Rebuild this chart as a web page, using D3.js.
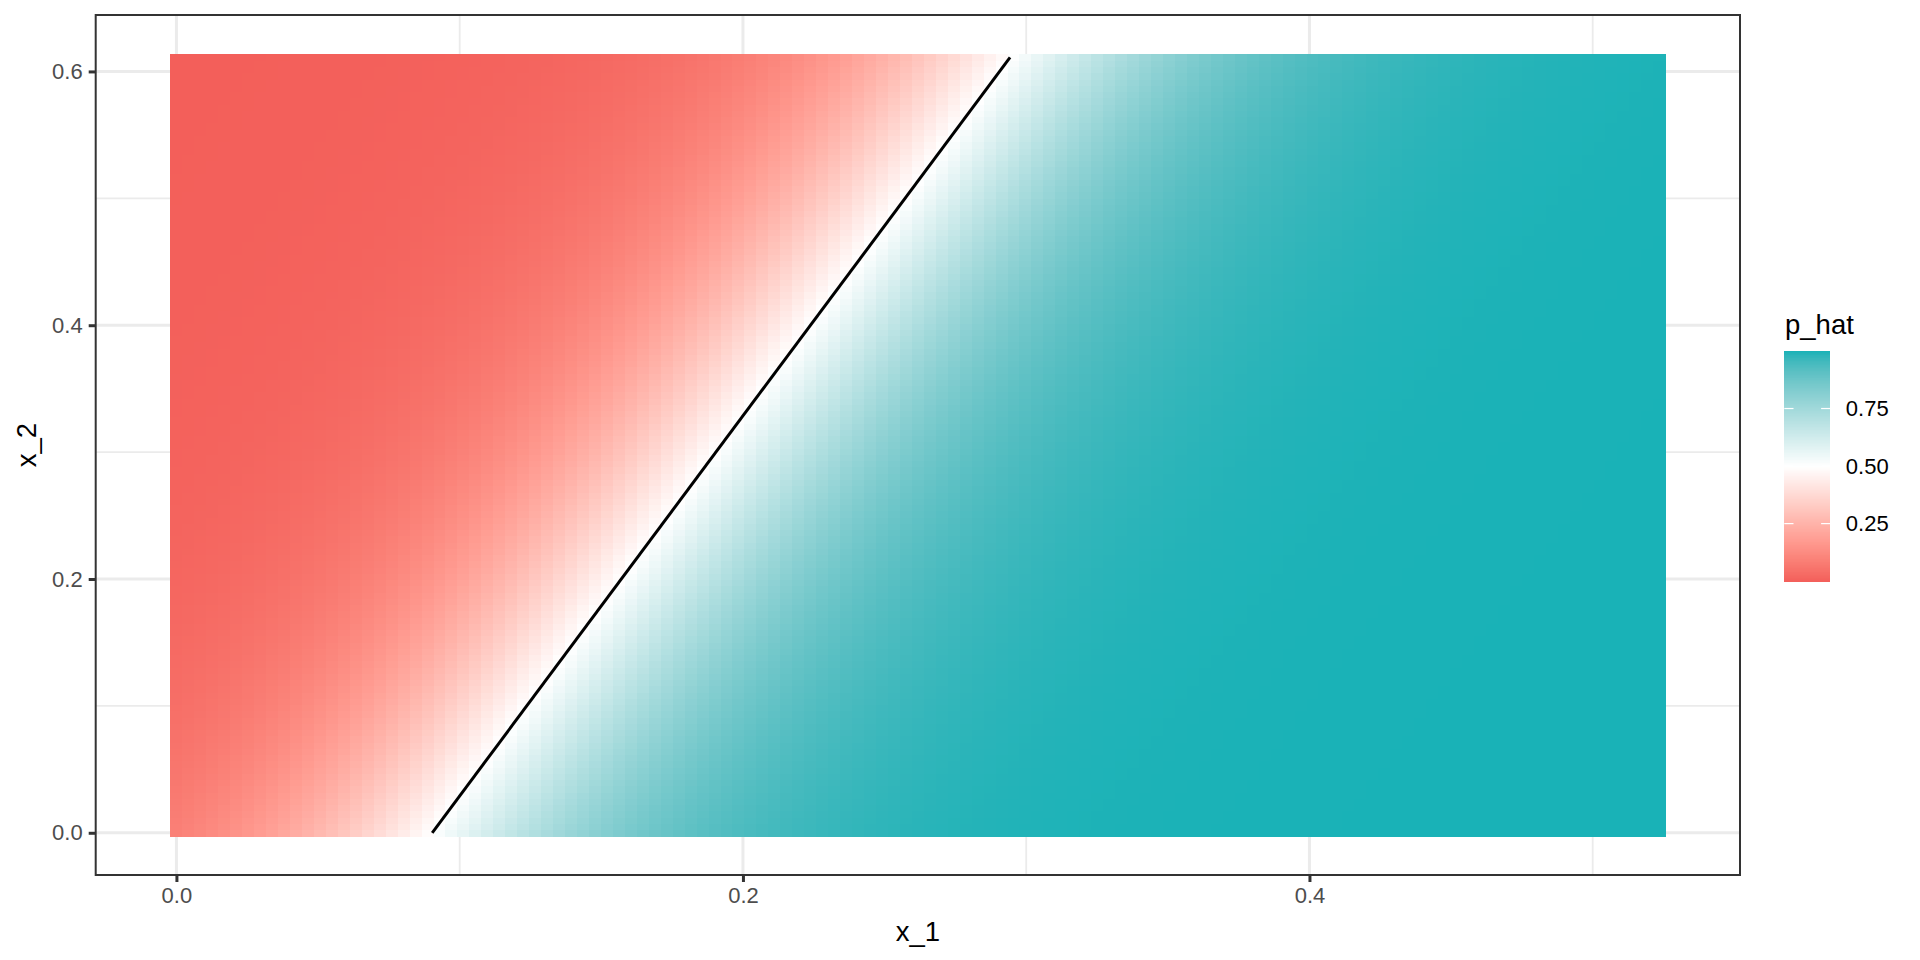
<!DOCTYPE html>
<html>
<head>
  <title>p_hat surface</title>
  <script src="https://d3js.org/d3.v7.min.js"></script>
  <style>
    body { margin: 0; background: #fff; }
    text { font-family: "Liberation Sans", Arial, sans-serif; }
  </style>
</head>
<body>
  <svg width="1920" height="960"></svg>
  <script>
  // grid the model was evaluated on
  var x1Range = [0, 0.5235];
  var x2Range = [0, 0.6112];
  var gridSize = 125;

  // fitted logistic coefficients: intercept, x_1, x_2
  var beta = [-2.2575, 25, -8.35];

  // decision boundary (p_hat = 0.5)
  var boundaryX1 = [0.0903, 0.2943];
  var boundaryX2 = [0, 0.611];

  // ticks
  var xTicks = [0, 0.2, 0.4];
  var xMinor = [0.1, 0.3, 0.5];
  var yTicks = [0, 0.2, 0.4, 0.6];
  var yMinor = [0.1, 0.3, 0.5];
  var legendTicks = [0.25, 0.5, 0.75];

  var lowColor = "#F35F5A", midColor = "#ffffff", highColor = "#19B2B7";

  var svg = d3.select("svg");
  var panel = {left: 95.7, right: 1740, top: 15, bottom: 875};

  // build the grid of predictions
  var dx = (x1Range[1] - x1Range[0]) / (gridSize - 1);
  var dy = (x2Range[1] - x2Range[0]) / (gridSize - 1);
  var cells = [];
  for (var i = 0; i < gridSize; i++) {
    for (var j = 0; j < gridSize; j++) {
      var a = x1Range[0] + i * dx, b = x2Range[0] + j * dy;
      var eta = beta[0] + beta[1] * a + beta[2] * b;
      cells.push({x1: a, x2: b, p: 1 / (1 + Math.exp(-eta))});
    }
  }

  // ggplot style 5% expansion around the tiles
  function expand(lo, hi) { var r = hi - lo; return [lo - 0.05 * r, hi + 0.05 * r]; }
  var x = d3.scaleLinear()
    .domain(expand(x1Range[0] - dx / 2, x1Range[1] + dx / 2))
    .range([panel.left, panel.right]);
  var y = d3.scaleLinear()
    .domain(expand(x2Range[0] - dy / 2, x2Range[1] + dy / 2))
    .range([panel.bottom, panel.top]);

  var pExt = d3.extent(cells, function(d){ return d.p; });
  var m = Math.max(Math.abs(pExt[0] - 0.5), Math.abs(pExt[1] - 0.5));
  var color = d3.scaleLinear()
    .domain([0.5 - m, 0.5, 0.5 + m])
    .range([lowColor, midColor, highColor])
    .interpolate(d3.interpolateLab);

  // grid lines
  var grid = svg.append("g");
  grid.selectAll("line.vmin").data(xMinor).enter().append("line")
    .attr("x1", function(d){ return x(d); }).attr("x2", function(d){ return x(d); })
    .attr("y1", panel.top).attr("y2", panel.bottom)
    .attr("stroke", "#EBEBEB").attr("stroke-width", 1.8);
  grid.selectAll("line.hmin").data(yMinor).enter().append("line")
    .attr("y1", function(d){ return y(d); }).attr("y2", function(d){ return y(d); })
    .attr("x1", panel.left).attr("x2", panel.right)
    .attr("stroke", "#EBEBEB").attr("stroke-width", 1.8);
  grid.selectAll("line.vmaj").data(xTicks).enter().append("line")
    .attr("x1", function(d){ return x(d); }).attr("x2", function(d){ return x(d); })
    .attr("y1", panel.top).attr("y2", panel.bottom)
    .attr("stroke", "#EBEBEB").attr("stroke-width", 3);
  grid.selectAll("line.hmaj").data(yTicks).enter().append("line")
    .attr("y1", function(d){ return y(d); }).attr("y2", function(d){ return y(d); })
    .attr("x1", panel.left).attr("x2", panel.right)
    .attr("stroke", "#EBEBEB").attr("stroke-width", 3);

  // tiles
  var tw = x(dx) - x(0), th = y(0) - y(dy);
  svg.append("g").attr("shape-rendering", "crispEdges")
    .selectAll("rect").data(cells).enter().append("rect")
    .attr("x", function(d){ return x(d.x1) - tw / 2; })
    .attr("y", function(d){ return y(d.x2) - th / 2; })
    .attr("width", tw + 0.6)
    .attr("height", th + 0.6)
    .attr("fill", function(d){ return color(d.p); });

  // boundary line
  svg.append("line")
    .attr("x1", x(boundaryX1[0])).attr("y1", y(boundaryX2[0]))
    .attr("x2", x(boundaryX1[1])).attr("y2", y(boundaryX2[1]))
    .attr("stroke", "#000").attr("stroke-width", 3);

  // panel border
  svg.append("rect")
    .attr("x", panel.left).attr("y", panel.top)
    .attr("width", panel.right - panel.left).attr("height", panel.bottom - panel.top)
    .attr("fill", "none").attr("stroke", "#333333").attr("stroke-width", 2);

  // axes
  var xAxis = svg.append("g").attr("transform", "translate(0," + panel.bottom + ")")
    .call(d3.axisBottom(x).tickValues(xTicks).tickFormat(d3.format(".1f")).tickSizeInner(7).tickSizeOuter(0).tickPadding(5));
  var yAxis = svg.append("g").attr("transform", "translate(" + panel.left + ",0)")
    .call(d3.axisLeft(y).tickValues(yTicks).tickFormat(d3.format(".1f")).tickSizeInner(7).tickSizeOuter(0).tickPadding(6));
  [xAxis, yAxis].forEach(function(g){
    g.select(".domain").remove();
    g.selectAll(".tick line").attr("stroke", "#333333").attr("stroke-width", 3);
    g.selectAll(".tick text").attr("fill", "#4D4D4D").style("font-size", "22px")
      .style("font-family", "'Liberation Sans', Arial, sans-serif");
  });

  svg.append("text")
    .attr("x", (panel.left + panel.right) / 2).attr("y", 941)
    .attr("text-anchor", "middle").style("font-size", "27.5px").text("x_1");
  svg.append("text")
    .attr("transform", "translate(35.5," + (panel.top + panel.bottom) / 2 + ") rotate(-90)")
    .attr("text-anchor", "middle").style("font-size", "27.5px").text("x_2");

  // legend
  var leg = {x: 1784.3, y: 351, w: 46, h: 230};
  svg.append("text").attr("x", 1785).attr("y", 334.3)
    .style("font-size", "27.5px").text("p_hat");
  var ly = d3.scaleLinear().domain(pExt).range([leg.y + leg.h, leg.y]);
  var bins = d3.range(300).map(function(k){ return pExt[0] + (pExt[1] - pExt[0]) * (k + 0.5) / 300; });
  var binH = leg.h / 300;
  svg.append("g").attr("shape-rendering", "crispEdges")
    .selectAll("rect").data(bins).enter().append("rect")
    .attr("x", leg.x).attr("width", leg.w)
    .attr("y", function(d){ return ly(d) - binH / 2; })
    .attr("height", binH + 0.5)
    .attr("fill", function(d){ return color(d); });
  var lt = svg.append("g").selectAll("g").data(legendTicks).enter().append("g");
  lt.append("line").attr("x1", leg.x).attr("x2", leg.x + leg.w / 5)
    .attr("y1", function(d){ return ly(d); }).attr("y2", function(d){ return ly(d); })
    .attr("stroke", "#fff").attr("stroke-width", 1.2);
  lt.append("line").attr("x1", leg.x + leg.w * 4 / 5).attr("x2", leg.x + leg.w)
    .attr("y1", function(d){ return ly(d); }).attr("y2", function(d){ return ly(d); })
    .attr("stroke", "#fff").attr("stroke-width", 1.2);
  lt.append("text").attr("x", leg.x + leg.w + 15.5)
    .attr("y", function(d){ return ly(d); }).attr("dy", "0.35em")
    .style("font-size", "22px").attr("fill", "#000")
    .text(function(d){ return d3.format(".2f")(d); });
  </script>
</body>
</html>
